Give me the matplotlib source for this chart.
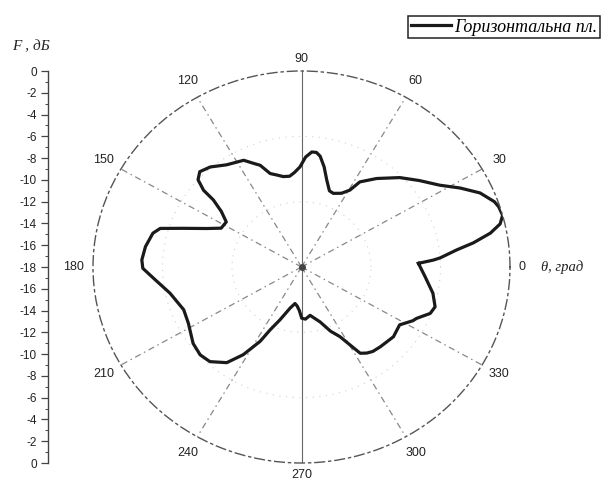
import numpy as np
import matplotlib.pyplot as plt
from matplotlib.lines import Line2D

# ДН у горизонтальній площині: кут (град) і рівень F (дБ)
theta_deg = [1.9, 3.2, 4.0, 6.7, 8.5, 10.8, 13.0, 15.3, 18.0, 19.8, 23.8, 27.9,
             32.2, 38.0, 44.1, 51.4, 57.2, 59.4, 63.0, 67.9, 71.0, 74.8, 78.0,
             81.0, 83.0, 85.2, 88.0, 90.8, 94.0, 97.0, 100.7, 104.0, 107.5,
             110.9, 113.0, 117.0, 124.6, 130.6, 135.1, 138.1, 140.2, 141.0,
             143.6, 147.5, 152.8, 156.6, 160.8, 163.8, 166.4, 172.1, 177.3,
             180.5, 184.7, 192.0, 201.1, 207.9, 216.9, 222.7, 227.7, 233.7,
             238.0, 242.4, 244.8, 249.0, 255.4, 260.5, 264.0, 267.3, 270.2,
             274.0, 279.5, 283.0, 287.7, 293.0, 297.4, 302.6, 305.4, 308.4,
             312.9, 321.1, 327.9, 332.8, 334.6, 339.0, 342.4, 348.0, 355.3]
F_db = [-7.9, -6.6, -6.0, -4.5, -3.0, -1.4, -0.4, 0.0, -0.1, -0.3, -1.15, -2.5,
        -3.9, -5.1, -6.2, -7.6, -8.7, -9.8, -10.4, -10.7, -10.6, -9.7, -8.6,
        -7.7, -7.4, -7.4, -7.9, -8.8, -9.3, -9.6, -9.55, -9.3, -9.0,
        -8.0, -7.7, -7.0, -6.6, -5.9, -5.6, -6.0, -7.0, -8.2,
        -9.4, -10.3, -10.2, -9.1, -7.2, -5.3, -4.8, -4.4, -4.2,
        -4.3, -5.2, -6.4, -7.1, -6.95, -6.3, -6.1, -6.25, -7.1,
        -8.5, -10.3, -11.6, -12.8, -14.1, -14.6, -14.4, -14.0, -13.3,
        -13.2, -13.5, -13.2, -12.7, -11.6, -10.8, -8.6, -8.3, -8.1,
        -8.0, -7.8, -8.0, -7.2, -7.0, -6.1, -5.9, -6.4, -7.3]

angle_labels = [0, 30, 60, 90, 120, 150, 180, 210, 240, 270, 300, 330]
scale_labels = ["0", "-2", "-4", "-6", "-8", "-10", "-12", "-14", "-16", "-18",
                "-16", "-14", "-12", "-10", "-8", "-6", "-4", "-2", "0"]
r_min, r_max = -18, 0

fig = plt.figure(figsize=(6.02, 4.84), dpi=100)
ax = fig.add_axes([93 / 602, 21 / 484, 417 / 602, 392 / 484], projection="polar")
ax.set_aspect("auto")
ax.set_ylim(r_min, r_max)
ax.grid(False)
ax.set_xticks([])
ax.set_yticks([])

# зовнішнє коло
ax.spines["polar"].set_linestyle((0, (7, 3, 1.5, 3)))
ax.spines["polar"].set_color("#555555")
ax.spines["polar"].set_linewidth(1.0)

# промені через 30 град
for a in angle_labels:
    if a in (0, 180):
        continue
    if a in (90, 270):
        ax.plot([np.radians(a)] * 2, [r_min, r_max], color="#666666", lw=0.8)
    else:
        ax.plot([np.radians(a)] * 2, [r_min, r_max], color="#888888", lw=0.9,
                linestyle=(0, (5, 3, 1.2, 3)))

# слабкі кола сітки
tt = np.linspace(0, 2 * np.pi, 200)
for rr in (-12, -6):
    ax.plot(tt, np.full_like(tt, rr), color="#d0d0d0", lw=0.8, linestyle=(0, (1, 5)))

ax.plot(0, r_min, marker="o", ms=4, color="#444444")

# сама діаграма
th = np.radians(theta_deg + theta_deg[:1])
ff = np.array(F_db + F_db[:1])
ax.plot(th, ff, color="#1a1a1a", lw=2.3, label="Горизонтальна пл.")

# підписи кутів
for a in angle_labels:
    rl = 1.7
    if a == 0:
        rl = 1.0
    elif a in (90, 270):
        rl = 1.1
    ax.text(np.radians(a), rl, str(a), ha="center", va="center",
            fontsize=9, family="Liberation Sans", color="#222222", clip_on=False)
fig.text(541 / 602, 1 - 267 / 484, "θ, град", ha="left", va="center",
         fontsize=10.5, family="Liberation Serif", style="italic", color="#222222")

# шкала F, дБ зліва
ax2 = fig.add_axes([48 / 602, 21 / 484, 0.0001, 392 / 484])
ax2.set_ylim(0, 36)
ax2.set_xticks([])
for s in ("top", "right", "bottom"):
    ax2.spines[s].set_visible(False)
ax2.spines["left"].set_color("#444444")
ax2.spines["left"].set_linewidth(1.0)
ax2.set_yticks(np.arange(0, 37, 2))
ax2.set_yticklabels(scale_labels, fontsize=8.5, family="Liberation Sans", color="#222222")
ax2.set_yticks(np.arange(1, 36, 2), minor=True)
ax2.tick_params(axis="y", which="major", direction="out", length=5, width=0.9, pad=3, colors="#444444")
ax2.tick_params(axis="y", which="minor", direction="out", length=2.5, width=0.7, colors="#444444")
for t in ax2.get_yticklabels():
    t.set_color("#222222")
fig.text(12 / 602, 1 - 47 / 484, "F , дБ", ha="left", va="center",
         fontsize=11, family="Liberation Serif", style="italic", color="#222222")

# легенда
h = Line2D([], [], color="#1a1a1a", lw=2.3)
leg = fig.legend([h], ["Горизонтальна пл."], loc="upper right",
                 bbox_to_anchor=(600 / 602, 1 - 16 / 484), frameon=True, fancybox=False,
                 edgecolor="#222222", framealpha=1, borderpad=0.15, handlelength=2.2,
                 handletextpad=0.2, borderaxespad=0,
                 prop={"family": "Liberation Serif", "style": "italic", "size": 13})
leg.get_frame().set_linewidth(1.1)

fig.savefig("out.png", dpi=100)
